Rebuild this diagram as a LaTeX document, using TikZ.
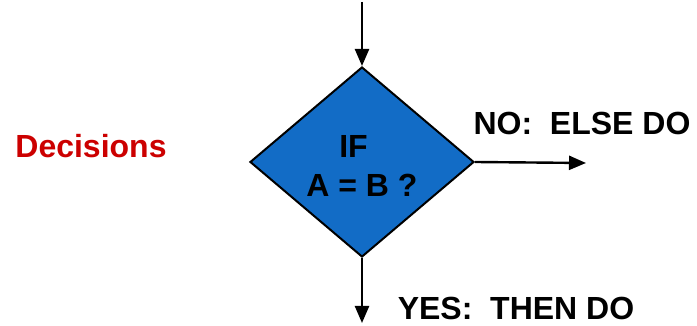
\documentclass[tikz,border=0pt]{standalone}
\usepackage{fontspec}
\setmainfont{Liberation Sans}
\usetikzlibrary{shapes.geometric,arrows.meta}
\definecolor{DecBlue}{RGB}{18,108,198}
\definecolor{DecRed}{RGB}{204,0,0}

\begin{document}
\begin{tikzpicture}[x=1pt,y=1pt,
  dec/.style={shape=diamond,draw=black,fill=DecBlue,line width=2pt,
              minimum width=224pt,minimum height=190pt,inner sep=0pt},
  lbl/.style={font=\fontsize{32}{39}\selectfont\bfseries,inner sep=0pt},
  flow/.style={line width=2.4pt,-{Triangle[length=17pt,width=14pt]}},
]
\useasboundingbox (0,0) rectangle (697,326);
\node[dec] (cond) at (362,164) {};
\node[lbl,align=center] (condtxt) at (362,160) {IF\hspace*{17pt}\\A = B ?};
\node[lbl,text=DecRed,anchor=base] (title) at (91,168) {Decisions};
\node[lbl,anchor=base] (no) at (582,191) {NO:\ \ ELSE DO};
\node[lbl,anchor=base] (yes) at (516,6) {YES:\ \ THEN DO};
\coordinate (in) at (362,324);
\coordinate (out) at (586,163);
\coordinate (down) at (362,3);
\draw[flow] (in) -- (cond.north);
\draw[flow] (cond.east) -- (out);
\draw[flow] (cond.south) -- (down);
\end{tikzpicture}
\end{document}
